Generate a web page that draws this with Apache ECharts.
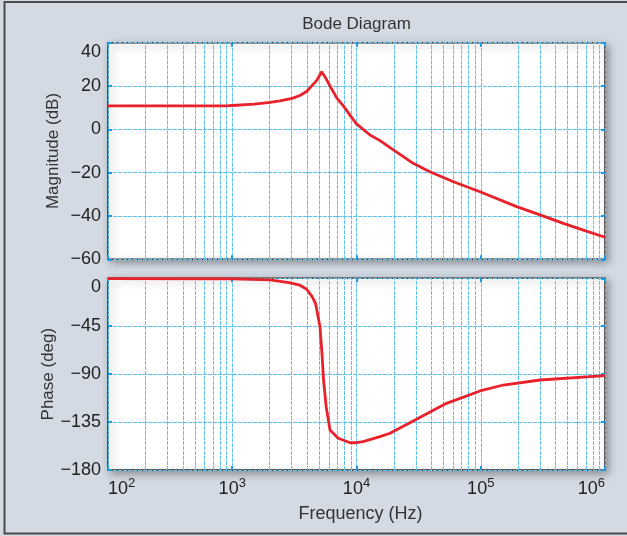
<!DOCTYPE html>
<html><head><meta charset="utf-8">
<script src="https://cdn.jsdelivr.net/npm/echarts@6/dist/echarts.min.js"></script>
<style>html,body{margin:0;padding:0;background:#d4dae3}#c{width:627px;height:536px}</style>
</head><body><div id="c"></div>
<script>
// ---- data ----
const magFreq = [100, 300, 900, 1000, 1500, 2014, 2420, 3040, 3500, 3970, 4400, 4790, 5250, 5700, 6120, 6930, 7830, 9420, 10000, 12850, 15460, 19800, 28600, 38900, 60300, 98600, 194600, 300000, 462000, 670000, 1000000];
const magDb   = [10.8, 10.8, 10.8, 11.0, 11.6, 12.4, 13.1, 14.3, 15.6, 17.5, 20.3, 22.6, 26.6, 23.3, 20.0, 14.5, 10.8, 4.5, 2.5, -2.6, -5.2, -9.5, -15.7, -19.6, -24.2, -28.8, -35.7, -39.5, -43.4, -46.5, -49.8];
const phaseFreq = [100, 1000, 2014, 2850, 3500, 3970, 4380, 4680, 5080, 5270, 5430, 5700, 6120, 7130, 8880, 10000, 11300, 15460, 18600, 28600, 53000, 98600, 152000, 300000, 1000000];
const phaseDeg  = [-0.3, -0.5, -1.5, -4, -6.5, -10.3, -17, -23.5, -45.4, -70, -95.5, -120.5, -142.4, -150.2, -154.4, -154.4, -153.4, -148.7, -145.5, -134, -117.4, -105.8, -100.2, -95.5, -91.4];
const freqDecades = [100, 1000, 10000, 100000, 1000000];
const magTicks = [-60, -40, -20, 0, 20, 40];
const phaseTicks = [-180, -135, -90, -45, 0];
const titleText = 'Bode Diagram';
const magName = 'Magnitude (dB)';
const phaseName = 'Phase (deg)';
const freqName = 'Frequency (Hz)';

// minor log grid values (2..9 x each decade)
const minorFreqs = [];
for (let i = 0; i < freqDecades.length - 1; i++) for (let m = 2; m <= 9; m++) minorFreqs.push(freqDecades[i] * m);

const FONT = 'Liberation Sans';
const gridColor = '#5cc3ee';
const gridType = [4, 1];
const tickColor = '#1a9ae0';
const minus = v => String(v).replace('-', '\u2212');

function xAx(gridIndex, withLabels, pos) {
  return {
    type: 'log', logBase: 10, gridIndex, position: pos,
    min: freqDecades[0], max: freqDecades[freqDecades.length - 1],
    axisLine: { show: false, onZero: false },
    axisTick: { show: true, inside: true, length: 4, lineStyle: { color: tickColor, width: 2 } },
    splitLine: { show: pos === 'bottom', lineStyle: { color: gridColor, width: 1, type: gridType } },
    axisLabel: withLabels ? {
      show: true, margin: 7, alignMinLabel: 'left', alignMaxLabel: 'right',
      formatter: v => '{a|10}{b|' + Math.round(Math.log10(v)) + '}',
      rich: {
        a: { fontFamily: FONT, fontSize: 18, color: '#222', lineHeight: 24 },
        b: { fontFamily: FONT, fontSize: 13, color: '#222', lineHeight: 13, verticalAlign: 'top' }
      }
    } : { show: false },
    name: withLabels ? freqName : '', nameLocation: 'middle', nameGap: 35, nameMoveOverlap: false,
    nameTextStyle: { fontFamily: FONT, fontSize: 18, color: '#333', padding: [0, 0, 0, 8] }
  };
}
function yAx(gridIndex, ticks, interval, name, gap, pos) {
  const left = pos === 'left';
  return {
    type: 'value', gridIndex, position: pos,
    min: ticks[0], max: ticks[ticks.length - 1], interval,
    axisLine: { show: false, onZero: false },
    axisTick: { show: true, inside: true, length: 4, lineStyle: { color: tickColor, width: 2 } },
    splitLine: { show: left, lineStyle: { color: gridColor, width: 1, type: gridType } },
    axisLabel: left ? { show: true, margin: 7, fontFamily: FONT, fontSize: 18, color: '#222', formatter: minus, verticalAlignMaxLabel: 'top' } : { show: false },
    name: left ? name : '', nameLocation: 'middle', nameGap: gap, nameRotate: 90, nameMoveOverlap: false,
    nameTextStyle: { fontFamily: FONT, fontSize: 17, color: '#333' }
  };
}
function minorSeries(xi, yi) {
  return {
    type: 'line', xAxisIndex: xi, yAxisIndex: yi, data: [], z: 1, silent: true,
    markLine: {
      silent: true, symbol: ['none', 'none'], label: { show: false }, animation: false,
      lineStyle: { color: gridColor, width: 1, type: gridType },
      emphasis: { disabled: true },
      data: minorFreqs.map(v => ({ xAxis: v }))
    }
  };
}
const gridStyle = { show: true, backgroundColor: '#ffffff', borderColor: '#2a2a2a', borderWidth: 1.5,
  shadowBlur: 8, shadowColor: 'rgba(0,0,0,0.35)', shadowOffsetX: 3, shadowOffsetY: 3 };

const chart = echarts.init(document.getElementById('c'), null, { renderer: 'canvas' });
chart.setOption({
  animation: false,
  backgroundColor: '#d4dae3',
  graphic: [
    { type: 'rect', z: 100, silent: true, shape: { x: 4.5, y: 2, width: 640, height: 531.5 },
      style: { fill: 'none', stroke: '#4a4a4a', lineWidth: 2 } },
    { type: 'text', z: 100, silent: true, x: 356.5, y: 16,
      style: { text: titleText, font: '17px "Liberation Sans"', fill: '#333', textAlign: 'center', textVerticalAlign: 'top' } }
  ],
  grid: [
    Object.assign({ left: 108, top: 42.7, width: 497, height: 216.6 }, gridStyle),
    Object.assign({ left: 108, top: 278.3, width: 497, height: 191.7 }, gridStyle)
  ],
  xAxis: [xAx(0, false, 'bottom'), xAx(1, true, 'bottom'), xAx(0, false, 'top'), xAx(1, false, 'top')],
  yAxis: [yAx(0, magTicks, 20, magName, 46, 'left'), yAx(1, phaseTicks, 45, phaseName, 51, 'left'),
          yAx(0, magTicks, 20, '', 0, 'right'), yAx(1, phaseTicks, 45, '', 0, 'right')],
  series: [
    minorSeries(0, 0), minorSeries(1, 1),
    { type: 'line', xAxisIndex: 0, yAxisIndex: 0, z: 5, symbol: 'none', silent: true,
      lineStyle: { color: '#e8212b', width: 2.8 }, data: magFreq.map((f, i) => [f, magDb[i]]) },
    { type: 'line', xAxisIndex: 1, yAxisIndex: 1, z: 5, symbol: 'none', silent: true,
      lineStyle: { color: '#e8212b', width: 2.8 }, data: phaseFreq.map((f, i) => [f, phaseDeg[i]]) }
  ]
});
</script></body></html>
